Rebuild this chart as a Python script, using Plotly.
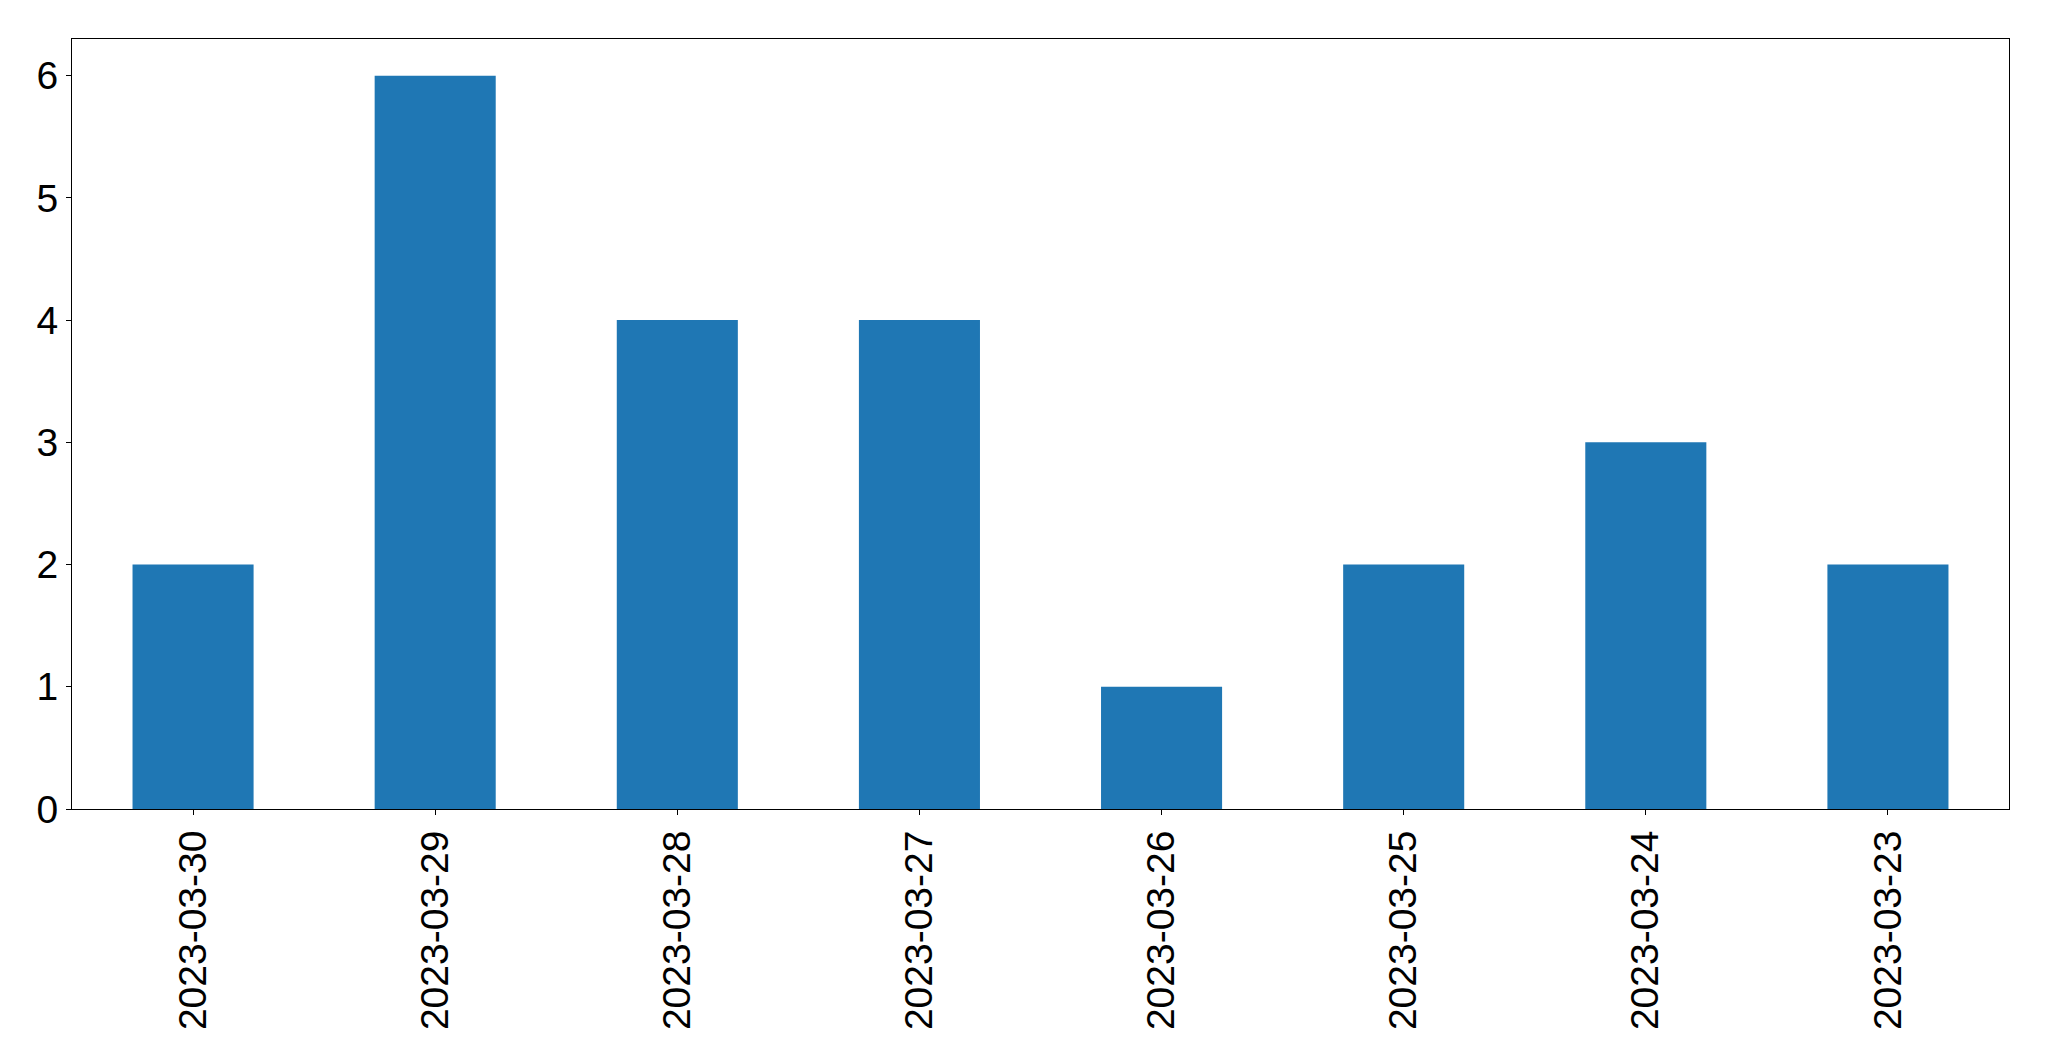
import plotly.graph_objects as go

dates = ["2023-03-30", "2023-03-29", "2023-03-28", "2023-03-27",
         "2023-03-26", "2023-03-25", "2023-03-24", "2023-03-23"]
counts = [2, 6, 4, 4, 1, 2, 3, 2]
y_ticks = [0, 1, 2, 3, 4, 5, 6]

fig = go.Figure(go.Bar(
    x=list(range(len(dates))), y=counts,
    width=0.5, marker=dict(color="#1f77b4", line=dict(width=0)),
))

font = dict(family="Liberation Sans, Arial, sans-serif", size=39, color="black")
# page body has an 8px default margin, so the figure is 16px smaller
fig.update_layout(
    width=2033, height=1045,
    margin=dict(l=64, r=32, t=31, b=244),
    paper_bgcolor="white", plot_bgcolor="white",
    showlegend=False,
    font=font,
)
fig.update_xaxes(
    range=[-0.5, len(dates) - 0.5], automargin=False,
    tickmode="array", tickvals=list(range(len(dates))), ticktext=dates,
    tickangle=-90, ticks="outside", ticklen=5, tickcolor="black", tickwidth=1,
    showline=True, linecolor="black", linewidth=1, mirror=True,
    showgrid=False, zeroline=False, tickfont=font,
)
fig.update_yaxes(
    range=[0, 6.3], automargin=False,
    tickmode="array", tickvals=y_ticks, ticktext=[str(v) for v in y_ticks],
    ticks="outside", ticklen=5, tickcolor="black", tickwidth=1,
    showline=True, linecolor="black", linewidth=1, mirror=True,
    showgrid=False, zeroline=False, tickfont=font,
)
fig.write_html("out.html")
